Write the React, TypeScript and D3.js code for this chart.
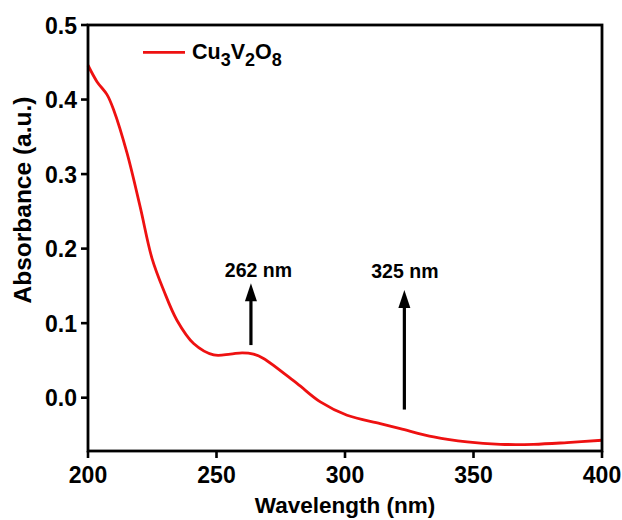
import React from "react";
import * as d3 from "d3";

const wavelength = [200, 203.5, 207.4, 210, 215.2, 220.3, 224.9, 229.4, 234.6, 241.1, 248.9, 255.4, 260, 264.4, 268.3, 281.3, 290.4, 300.8, 313.7, 321.5, 334.5, 347.5, 360.4, 373.4, 386.4, 400];
const absorbance = [0.446, 0.424, 0.4066, 0.386, 0.328, 0.256, 0.187, 0.1445, 0.104, 0.0728, 0.0575, 0.0585, 0.0602, 0.0585, 0.0527, 0.0191, -0.0056, -0.0235, -0.0347, -0.0414, -0.0527, -0.0594, -0.0625, -0.0625, -0.0602, -0.0571];
const xTicks = [200, 250, 300, 350, 400];
const yTicks = [0.0, 0.1, 0.2, 0.3, 0.4, 0.5];
const annotations = [
  { label: "262 nm", x: 263.4, yFrom: 0.0706, yTo: 0.1535, labelX: 266.3, labelY: 0.162 },
  { label: "325 nm", x: 323.1, yFrom: -0.0159, yTo: 0.1445, labelX: 323.3, labelY: 0.160 },
];

const W = 622, H = 520;
const L = 88, R = 602, T = 25, B = 451;

export default function App() {
  const x = d3.scaleLinear().domain([200, 400]).range([L, R]);
  const y = d3.scaleLinear().domain([-0.0715, 0.5]).range([B, T]);
  const pts = wavelength.map((w, i) => [w, absorbance[i]] as [number, number]);
  const line = d3.line<[number, number]>().x(d => x(d[0])).y(d => y(d[1])).curve(d3.curveCatmullRom.alpha(0.5));
  const font = "'Liberation Sans', Arial, sans-serif";
  const red = "#ee1111";
  return (
    <svg width={W} height={H} style={{ position: "absolute", left: 0, top: 0, background: "#fff" }} fontFamily={font}>
      <path d={line(pts) || ""} fill="none" stroke={red} strokeWidth={2.8} />
      <rect x={L} y={T} width={R - L} height={B - T} fill="none" stroke="#000" strokeWidth={2.8} />
      {xTicks.map(t => (
        <g key={"x" + t}>
          <line x1={x(t)} x2={x(t)} y1={B} y2={B + 7} stroke="#000" strokeWidth={2.6} />
          <text x={x(t)} y={483} textAnchor="middle" fontSize={23} fontWeight="bold">{t}</text>
        </g>
      ))}
      {yTicks.map(t => (
        <g key={"y" + t}>
          <line x1={L - 7} x2={L} y1={y(t)} y2={y(t)} stroke="#000" strokeWidth={2.6} />
          <text x={L - 11} y={y(t) + 8.5} textAnchor="end" fontSize={23} fontWeight="bold">{t.toFixed(1)}</text>
        </g>
      ))}
      <text x={345} y={513} textAnchor="middle" fontSize={22.5} fontWeight="bold">Wavelength (nm)</text>
      <text transform={`translate(30.5, 200) rotate(-90)`} textAnchor="middle" fontSize={24.5} fontWeight="bold">Absorbance (a.u.)</text>
      <line x1={143} x2={185} y1={52.3} y2={52.3} stroke={red} strokeWidth={2.8} />
      <text x={192} y={59.3} fontSize={21.5} fontWeight="bold">
        Cu<tspan fontSize={18} dy={6.5}>3</tspan><tspan dy={-6.5}>V</tspan><tspan fontSize={18} dy={6.5}>2</tspan><tspan dy={-6.5}>O</tspan><tspan fontSize={18} dy={6.5}>8</tspan>
      </text>
      {annotations.map(a => {
        const xp = x(a.x);
        const y0 = y(a.yFrom), y1 = y(a.yTo);
        return (
          <g key={a.label}>
            <line x1={xp} x2={xp} y1={y0} y2={y1 + 14} stroke="#000" strokeWidth={3.2} />
            <path d={`M${xp},${y1} L${xp - 6},${y1 + 18} L${xp + 6},${y1 + 18} Z`} fill="#000" />
            <text x={x(a.labelX)} y={y(a.labelY)} textAnchor="middle" fontSize={19.5} fontWeight="bold">{a.label}</text>
          </g>
        );
      })}
    </svg>
  );
}
